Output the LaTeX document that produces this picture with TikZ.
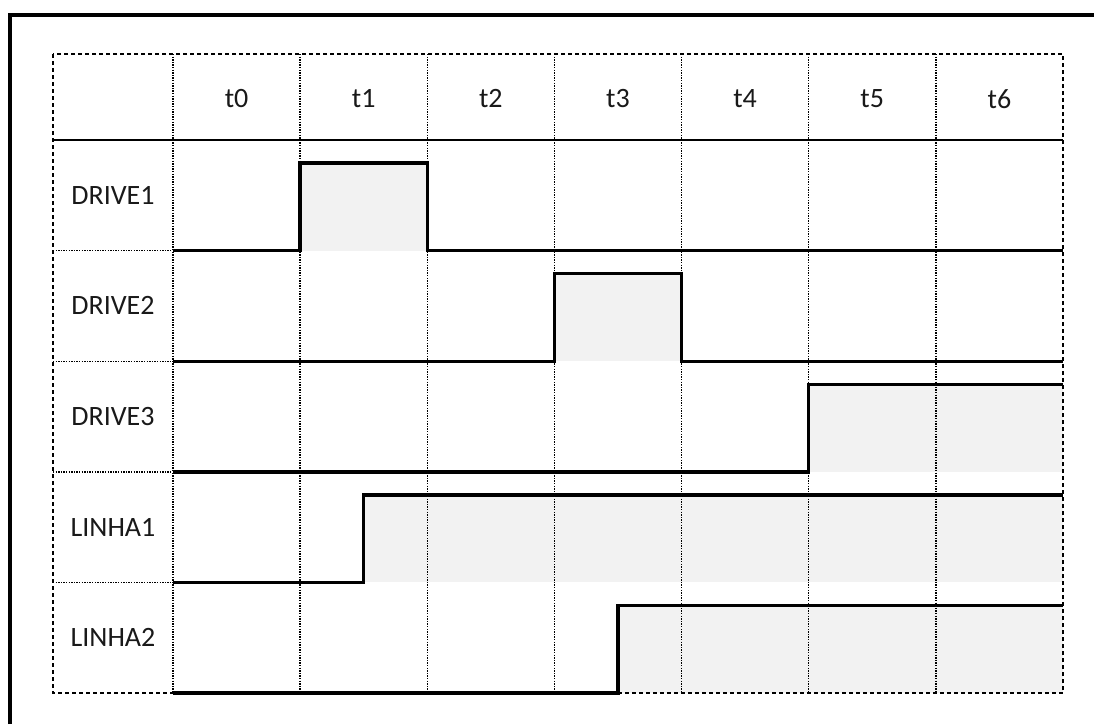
\documentclass[tikz,border=0pt]{standalone}
\usepackage{fontspec}
\setmainfont{Carlito}
\definecolor{hiFill}{HTML}{F2F2F2}
\tikzset{
  frame/.style={line width=3.6pt},
  grid/.style={line width=1.4pt, dash pattern=on 1.3pt off 1.3pt},
  edge/.style={line width=2pt, dash pattern=on 4pt off 3pt},
  head/.style={line width=1.3pt},
  wave/.style={line width=3.4pt, line join=miter},
  hi/.style={fill=hiFill},
  lbl/.style={font=\fontsize{28}{32}\selectfont, text=black!90, inner sep=0pt}
}

\begin{document}
\begin{tikzpicture}[x=1pt,y=-1pt]
\useasboundingbox (0,0) rectangle (1094,724);
\draw[frame] (10,724) -- (10,15) -- (1094,15);
% high levels, shaded
\begin{scope}[xshift=173pt, yshift=-140pt, x=127.14pt]
  \fill[hi] (1,23) rectangle (2,110.6);
  \fill[hi] (3,133.6) rectangle (4,221.2);
  \fill[hi] (5,244.2) rectangle (7,331.8);
  \fill[hi] (1.5,354.8) rectangle (7,442.4);
  \fill[hi] (3.5,465.4) rectangle (7,553);
\end{scope}
% grid
\foreach \i in {0,...,6}
  \draw[grid] ({173+127.14*\i},54) -- ++(0,639);
\foreach \y in {250.6,361.2,471.8,582.4}
  \draw[grid] (53,\y) -- (173,\y);
\draw[head] (53,140) -- (1063,140);
\draw[edge] (53,54) rectangle (1063,693);
% header and row names
\foreach \i in {0,...,6}
  \node[lbl] (t\i) at ({173+127.14*(\i+0.5)},99) {t\i};
\node[lbl] (drive1) at (113,195.3) {DRIVE1};
\node[lbl] (drive2) at (113,305.9) {DRIVE2};
\node[lbl] (drive3) at (113,416.5) {DRIVE3};
\node[lbl] (linha1) at (113,527.1) {LINHA1};
\node[lbl] (linha2) at (113,637.7) {LINHA2};
% waveforms
\begin{scope}[xshift=173pt, yshift=-140pt, x=127.14pt]
  \draw[wave] (0,110.6) -- (1,110.6) -- (1,23) -- (2,23) -- (2,110.6) -- (7,110.6);
  \draw[wave] (0,221.2) -- (3,221.2) -- (3,133.6) -- (4,133.6) -- (4,221.2) -- (7,221.2);
  \draw[wave] (0,331.8) -- (5,331.8) -- (5,244.2) -- (7,244.2);
  \draw[wave] (0,442.4) -- (1.5,442.4) -- (1.5,354.8) -- (7,354.8);
  \draw[wave] (0,553) -- (3.5,553) -- (3.5,465.4) -- (7,465.4);
\end{scope}
\end{tikzpicture}
\end{document}
